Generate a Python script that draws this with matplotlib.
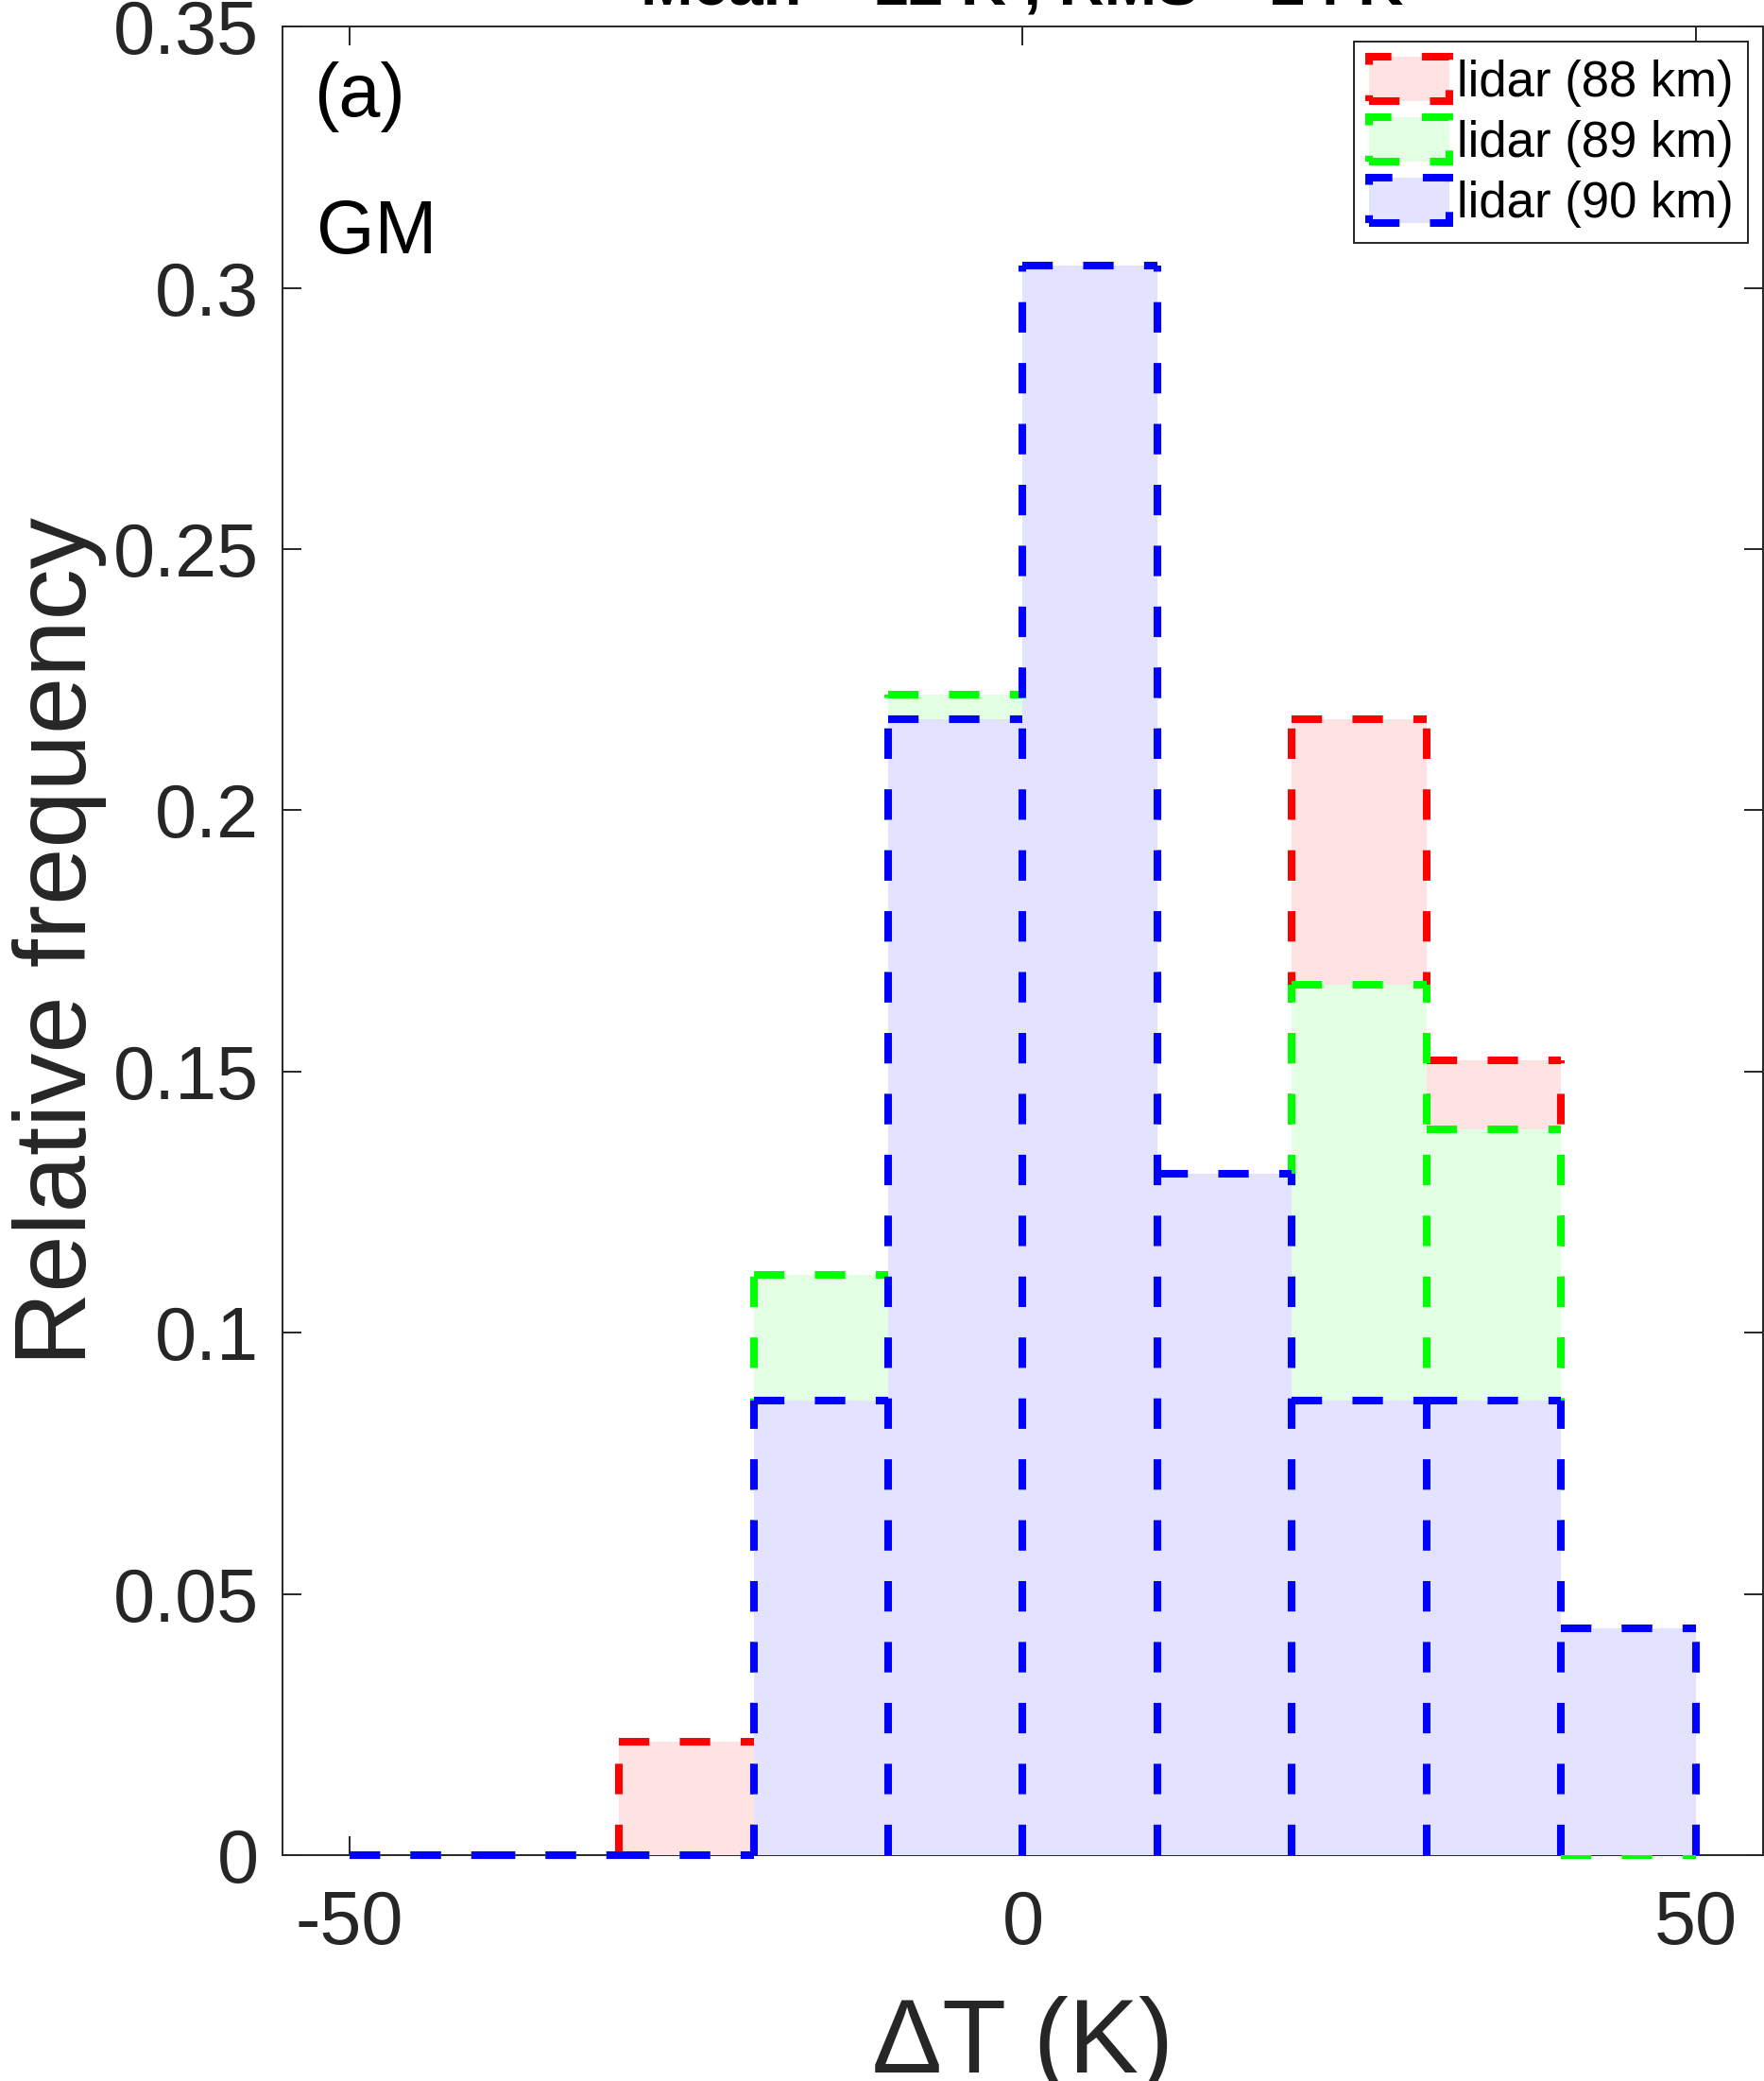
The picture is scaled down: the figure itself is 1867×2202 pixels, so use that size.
import numpy as np
import matplotlib
matplotlib.use('Agg')
import matplotlib.pyplot as plt
from matplotlib.patches import Patch

plt.rcParams['font.family'] = ['Liberation Sans', 'DejaVu Sans']
plt.rcParams['axes.unicode_minus'] = False

# histogram data (relative frequency per 10 K bin)
bin_left = [-50, -40, -30, -20, -10, 0, 10, 20, 30, 40]
bin_width = 10
lidar_88 = [0, 0, 0.0217, 0.0870, 0.0870, 0.2391, 0.0435, 0.2174, 0.1522, 0.0435]
lidar_89 = [0, 0, 0, 0.1111, 0.2222, 0.2222, 0.1111, 0.1667, 0.1389, 0]
lidar_90 = [0, 0, 0, 0.0870, 0.2174, 0.3043, 0.1304, 0.0870, 0.0870, 0.0435]
labels = ['lidar (88 km)', 'lidar (89 km)', 'lidar (90 km)']
edge_colors = ['#ff0000', '#00ff00', '#0000ff']
face_colors = ['#ffe3e3', '#e3ffe3', '#e3e3ff']
title_text = 'Mean = 12 K , RMS = 24 K'

lw = 5.8
dash = (0, (4, 4))

fig = plt.figure(figsize=(18.67, 22.02), dpi=100)
ax = fig.add_axes([0.1601, 0.1085, 0.8394, 0.8787])

handles = []
for i, (vals, lab, ec, fc) in enumerate(zip([lidar_88, lidar_89, lidar_90], labels,
                                            edge_colors, face_colors)):
    z = 1 + 2 * i
    vals = np.array(vals)
    left = np.array(bin_left, dtype=float)
    ax.bar(left, vals, width=bin_width, align='edge', color=fc, linewidth=0, zorder=z)
    # bar tops
    ax.hlines(vals, left, left + bin_width, colors=ec, linewidth=lw,
              linestyles=dash, clip_on=False, zorder=z + 1)
    # bar sides, each drawn upward from zero so the dashes line up
    edges = np.append(left, left[-1] + bin_width)
    padded = np.concatenate([[0], vals, [0]])
    side_h = np.maximum(padded[:-1], padded[1:])
    keep = side_h > 0
    ax.vlines(edges[keep], 0, side_h[keep], colors=ec, linewidth=lw,
              linestyles=dash, clip_on=False, zorder=z + 1)
    handles.append(Patch(facecolor=fc, edgecolor=ec, linewidth=lw,
                         linestyle=dash, label=lab))

ax.set_xlim(-55, 55)
ax.set_ylim(0, 0.35)
ax.set_xticks([-50, 0, 50])
ax.set_yticks(np.arange(0, 0.351, 0.05))
ax.set_yticklabels(['0', '0.05', '0.1', '0.15', '0.2', '0.25', '0.3', '0.35'])
ax.tick_params(direction='in', length=14.4, width=1.4, top=True, right=True,
               labelsize=57, colors='#262626', pad=18)
ax.tick_params(axis='x', pad=26)
for sp in ax.spines.values():
    sp.set_linewidth(1.4)
    sp.set_color('#262626')
    sp.set_zorder(0.5)

ax.set_xlabel('ΔT (K)', fontsize=80, color='#262626', labelpad=27)
ax.set_ylabel('Relative frequency', fontsize=78, color='#262626', labelpad=5)

ax.text(0.021, 0.951, '(a)', transform=ax.transAxes, fontsize=57, va='baseline')
ax.text(0.023, 0.876, 'GM', transform=ax.transAxes, fontsize=57, va='baseline')

fig.text(0.5795, 1 - 5 / 2202, title_text, ha='center', va='baseline',
         fontsize=48, fontweight='bold')

leg = ax.legend(handles=handles, loc='upper right', fontsize=38, frameon=True,
                fancybox=False, edgecolor='#262626', framealpha=1,
                handlelength=1.6, handleheight=1.0, handletextpad=0.15,
                borderpad=0.3, labelspacing=0.22, borderaxespad=0.3)
leg.get_frame().set_linewidth(1.4)
leg.set_zorder(10)

fig.savefig('out.png', dpi=100)
